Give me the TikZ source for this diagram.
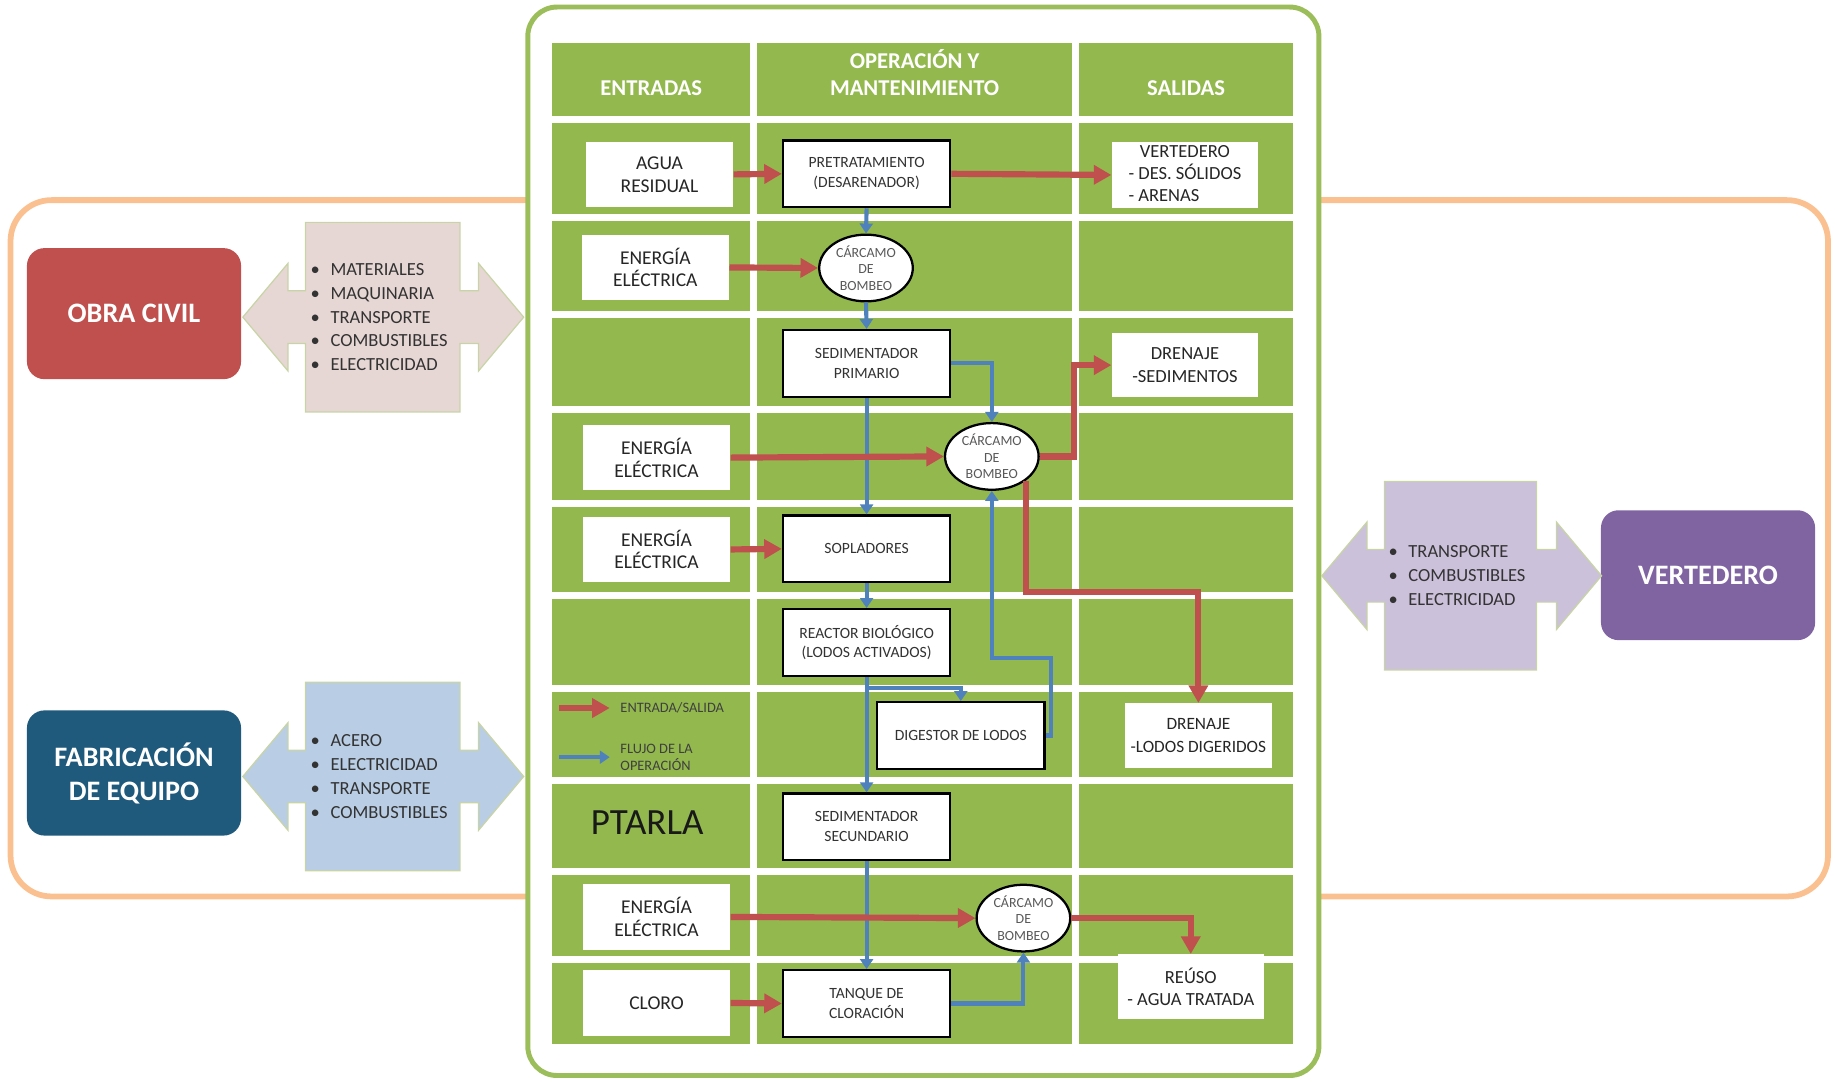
\documentclass[tikz,border=0pt]{standalone}
\usepackage{fontspec}
\setmainfont{Carlito}
\usetikzlibrary{arrows.meta,shapes.geometric,shapes.arrows}

\definecolor{verdecelda}{RGB}{146,184,78}
\definecolor{verdemarco}{RGB}{155,190,90}
\definecolor{naranja}{RGB}{250,192,144}
\definecolor{rojoflecha}{RGB}{192,80,77}
\definecolor{azulflecha}{RGB}{79,129,189}
\definecolor{azulfab}{RGB}{31,89,124}
\definecolor{moradovert}{RGB}{128,100,162}
\definecolor{rosainsumo}{RGB}{230,215,212}
\definecolor{celesteinsumo}{RGB}{185,205,229}
\definecolor{lilainsumo}{RGB}{204,193,218}
\definecolor{bordeinsumo}{RGB}{200,212,165}

\newcommand{\punto}{\makebox[0.34cm][l]{\textbullet}}

\tikzset{
  encabezado/.style={text=white, align=center, font=\fontsize{11}{13.6}\selectfont\bfseries},
  entrada/.style={fill=white, minimum width=2.52cm, minimum height=1.12cm, inner sep=0pt,
    align=center, text=black!85, font=\fontsize{9.5}{11.1}\selectfont},
  proceso/.style={draw=black, line width=1.1pt, fill=white, minimum width=2.86cm,
    minimum height=1.14cm, inner sep=0pt, align=center, text=black!80,
    font=\fontsize{7.6}{9.6}\selectfont},
  carcamo/.style={ellipse, draw=black, line width=1.1pt, fill=white, minimum width=1.6cm,
    minimum height=1.14cm, inner sep=0pt, align=center, text=black!65,
    font=\fontsize{6.8}{8}\selectfont},
  salida/.style={fill=white, minimum width=2.5cm, minimum height=1.1cm, inner sep=0pt,
    align=center, text=black!85, font=\fontsize{9}{10.8}\selectfont},
  roja/.style={draw=rojoflecha, line width=3pt, -{Triangle[length=0.3cm,width=0.32cm]}},
  azul/.style={draw=azulflecha, line width=2pt, -{Triangle[length=0.17cm,width=0.22cm]}},
  leyenda/.style={anchor=west, align=left, text=black!75, font=\fontsize{7}{8.4}\selectfont},
  etapa/.style={rounded corners=0.3cm, minimum width=3.66cm, minimum height=2.24cm,
    text=white, align=center, font=\fontsize{13.7}{16.5}\selectfont\bfseries},
  insumo/.style={arrow box, draw=bordeinsumo, line width=0.6pt, minimum width=2.64cm,
    minimum height=3.24cm, inner sep=0pt, arrow box shaft width=0.9cm,
    arrow box head extend=0.47cm, arrow box tip angle=100,
    arrow box arrows={west:1.06cm, east:1.08cm}, text width=2.46cm, align=left,
    text=black!80, font=\fontsize{9}{11.6}\selectfont}
}

\begin{document}
\begin{tikzpicture}[x=0.02cm, y=-0.02cm]
\useasboundingbox (0,0) rectangle (1568,924);

% Marco naranja exterior
\draw[naranja, line width=2.8pt, rounded corners=0.7cm] (9,171) rectangle (1562,766);

% Marco verde de la planta
\draw[verdemarco, line width=2.4pt, fill=white, rounded corners=0.5cm] (451,6) rectangle (1127,919);

% Celdas de la tabla
\foreach \ya/\yb in {37/99,105/183,189/266,272/347,353/427,433/506,512/585,591/664,670/742,748/817,823/892}
  \foreach \xa/\xb in {472/641,647/916,922/1105}
    \fill[verdecelda] (\xa,\ya) rectangle (\xb,\yb);

% Encabezados
\node[encabezado] (entradas) at (556.5,75) {ENTRADAS};
\node[encabezado] (operacion) at (781.5,62) {OPERACIÓN Y\\MANTENIMIENTO};
\node[encabezado] (salidas) at (1013.5,75) {SALIDAS};

% Entradas
\node[entrada] (agua) at (563.5,149) {AGUA\\RESIDUAL};
\node[entrada] (ener1) at (560,228.5) {ENERGÍA\\ELÉCTRICA};
\node[entrada] (ener2) at (561,391) {ENERGÍA\\ELÉCTRICA};
\node[entrada] (ener3) at (561,469.5) {ENERGÍA\\ELÉCTRICA};
\node[entrada] (ener4) at (561,783.5) {ENERGÍA\\ELÉCTRICA};
\node[entrada] (cloro) at (561,857) {CLORO};

% Operacion y mantenimiento
\node[proceso] (pretrat) at (740.5,148.5) {PRETRATAMIENTO\\(DESARENADOR)};
\node[carcamo] (carc1) at (740,229) {CÁRCAMO\\DE\\BOMBEO};
\node[proceso] (sedprim) at (740.5,310.5) {SEDIMENTADOR\\PRIMARIO};
\node[carcamo] (carc2) at (847.5,390) {CÁRCAMO\\DE\\BOMBEO};
\node[proceso] (sopl) at (740.5,469) {SOPLADORES};
\node[proceso] (reactor) at (740.5,549) {REACTOR BIOLÓGICO\\(LODOS ACTIVADOS)};
\node[proceso] (digestor) at (821,628.5) {DIGESTOR DE LODOS};
\node[proceso] (sedsec) at (740.5,706.5) {SEDIMENTADOR\\SECUNDARIO};
\node[carcamo] (carc3) at (874.5,784.5) {CÁRCAMO\\DE\\BOMBEO};
\node[proceso] (tanque) at (740.5,857.5) {TANQUE DE\\CLORACIÓN};

% Salidas
\node[salida] (vert) at (1012.5,149.5)
  {\begin{tabular}{@{}l@{}}\multicolumn{1}{@{}c@{}}{VERTEDERO}\\- DES. SÓLIDOS\\- ARENAS\end{tabular}};
\node[salida] (dren1) at (1012.5,312) {DRENAJE\\-SEDIMENTOS};
\node[salida, font=\fontsize{8.4}{10.8}\selectfont] (dren2) at (1024,628.5) {DRENAJE\\-LODOS DIGERIDOS};
\node[salida] (reuso) at (1017.5,843) {REÚSO\\- AGUA TRATADA};

\node[font=\fontsize{18}{20}\selectfont, text=black!90] (ptarla) at (553,703) {PTARLA};

% Flujo de la operacion
\coordinate (codoA) at (740,588);
\coordinate (codoB) at (898,562);
\coordinate (codoC) at (847.5,562);
\draw[azul] (pretrat.south) -- (carc1.north);
\draw[azul] (carc1.south) -- (sedprim.north);
\draw[azul] (sedprim.south) -- (sopl.north);
\draw[azul] (sedprim.east) -| (carc2.north);
\draw[azul] (sopl.south) -- (reactor.north);
\draw[azul] (reactor.south) -- (sedsec.north);
\draw[azul] (codoA) -| (digestor.north);
\draw[azul] (digestor.east) -- (digestor.east -| codoB) -- (codoB) -- (codoC) -- (carc2.south);
\draw[azul] (sedsec.south) -- (tanque.north);
\draw[azul] (tanque.east) -| (carc3.south);

% Entradas y salidas
\coordinate (codoD) at (918,390);
\coordinate (codoE) at (1024,506);
\draw[roja] (agua.east) -- (pretrat.west);
\draw[roja] (pretrat.east) -- (vert.west);
\draw[roja] (ener1.east) -- (carc1.west);
\draw[roja] (ener2.east) -- (carc2.west);
\draw[roja] (carc2.east) -- (codoD) |- (dren1.west);
\draw[roja] (carc2.south east) |- (codoE) -- (dren2.north);
\draw[roja] (ener3.east) -- (sopl.west);
\draw[roja] (ener4.east) -- (carc3.west);
\draw[roja] (carc3.east) -| (reuso.north);
\draw[roja] (cloro.east) -- (tanque.west);

% Leyenda
\coordinate (leyR1) at (478,605);
\coordinate (leyR2) at (521,605);
\coordinate (leyA1) at (478,647);
\coordinate (leyA2) at (521,647);
\draw[roja] (leyR1) -- (leyR2);
\draw[azul] (leyA1) -- (leyA2);
\node[leyenda] (leyroja) at (524,605) {ENTRADA/SALIDA};
\node[leyenda] (leyazul) at (524,647) {FLUJO DE LA\\OPERACIÓN};

% Etapas exteriores
\node[etapa, fill=rojoflecha] (obra) at (114.5,268) {OBRA CIVIL};
\node[etapa, fill=azulfab, minimum height=2.14cm] (fabrica) at (114.5,660.5) {FABRICACIÓN\\DE EQUIPO};
\node[etapa, fill=moradovert, minimum height=2.22cm] (vertedero) at (1459.5,491.5) {VERTEDERO};

% Insumos
\node[insumo, fill=rosainsumo] (insobra) at (327,271)
  {\punto MATERIALES\\\punto MAQUINARIA\\\punto TRANSPORTE\\\punto COMBUSTIBLES\\\punto ELECTRICIDAD};
\node[insumo, fill=celesteinsumo, minimum height=3.22cm] (insfab) at (327,663.5)
  {\punto ACERO\\\punto ELECTRICIDAD\\\punto TRANSPORTE\\\punto COMBUSTIBLES};
\node[insumo, fill=lilainsumo, minimum width=2.6cm, minimum height=3.22cm,
  arrow box arrows={west:1.06cm, east:1.1cm}] (insvert) at (1248,492)
  {\punto TRANSPORTE\\\punto COMBUSTIBLES\\\punto ELECTRICIDAD};

\end{tikzpicture}
\end{document}
